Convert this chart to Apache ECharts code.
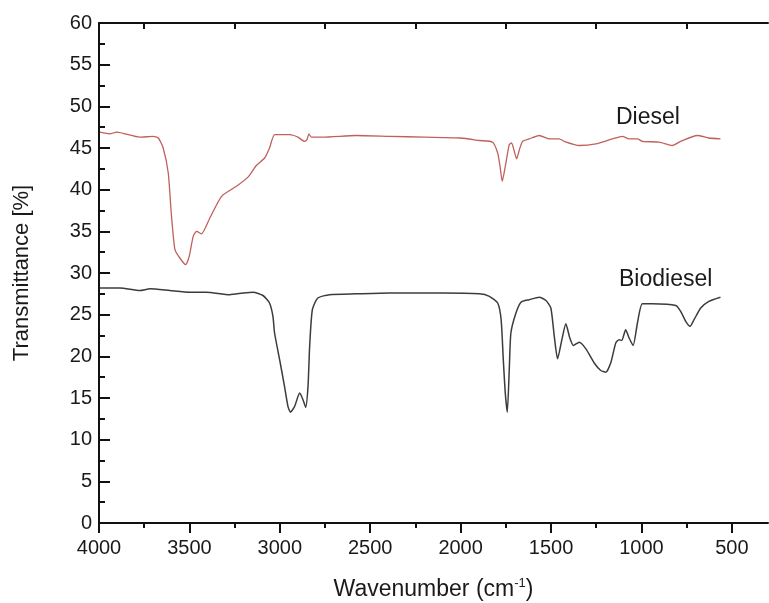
<!doctype html>
<html lang="en">
<head>
    <meta charset="utf-8">
    <title>FTIR Diesel / Biodiesel</title>
    <script src="https://cdn.jsdelivr.net/npm/echarts@6.0.0/dist/echarts.min.js"></script>
    <style>
        html, body { margin: 0; padding: 0; background: #fff; }
        #chart { width: 769px; height: 603px; }
    </style>
</head>
<body>
    <div id="chart"></div>

    <script type="text/javascript">
        // wavenumber (cm-1) and transmittance (%)
        var dieselX = [3995, 3940, 3902, 3774, 3700, 3672, 3645, 3617, 3599, 3580, 3553, 3521, 3501, 3479, 3460, 3433,
            3387, 3322, 3240, 3176, 3130, 3084, 3057, 3028, 2945, 2900, 2863, 2850, 2839, 2826, 2762, 2578, 2393, 2200,
            2000, 1896, 1823, 1795, 1782, 1770, 1753, 1731, 1718, 1703, 1690, 1675, 1657, 1620, 1565, 1510, 1455, 1427,
            1344, 1252, 1160, 1105, 1068, 1022, 995, 902, 829, 783, 691, 627, 563];
        var dieselY = [46.9, 46.7, 46.9, 46.3, 46.4, 46.2, 45.0, 42.0, 36.8, 32.8, 31.8, 31.0, 32.0, 34.4, 35.0, 34.7,
            36.6, 39.2, 40.4, 41.5, 42.9, 43.8, 45.0, 46.6, 46.6, 46.3, 45.8, 46.0, 46.7, 46.3, 46.3, 46.5, 46.4, 46.3,
            46.2, 45.9, 45.7, 44.4, 42.8, 41.0, 42.8, 45.4, 45.6, 44.6, 43.7, 44.8, 45.8, 46.1, 46.5, 46.1, 46.1, 45.8,
            45.3, 45.5, 46.1, 46.4, 46.1, 46.1, 45.8, 45.7, 45.3, 45.8, 46.5, 46.2, 46.1];

        var biodieselX = [3995, 3884, 3774, 3718, 3608, 3498, 3406, 3277, 3203, 3148, 3093, 3057, 3038, 3029, 3001, 2974,
            2955, 2941, 2918, 2890, 2872, 2857, 2844, 2835, 2820, 2790, 2725, 2578, 2393, 2100, 1896, 1841, 1795, 1776,
            1764, 1753, 1742, 1731, 1722, 1694, 1666, 1620, 1565, 1528, 1501, 1482, 1464, 1440, 1418, 1396, 1376, 1344,
            1307, 1261, 1225, 1197, 1170, 1142, 1124, 1109, 1087, 1068, 1046, 1022, 995, 939, 810, 783, 755, 731, 709,
            672, 627, 563];
        var biodieselY = [28.2, 28.2, 27.9, 28.1, 27.9, 27.7, 27.7, 27.4, 27.6, 27.7, 27.3, 26.4, 24.8, 22.8, 19.6, 16.4,
            14.0, 13.3, 14.0, 15.6, 14.8, 13.9, 16.4, 21.2, 25.6, 27.0, 27.4, 27.5, 27.6, 27.6, 27.5, 27.2, 26.4, 24.4,
            19.6, 15.6, 13.3, 18.4, 22.8, 25.2, 26.5, 26.8, 27.1, 26.7, 25.8, 22.4, 19.7, 22.0, 23.9, 22.2, 21.3, 21.7,
            20.9, 19.2, 18.3, 18.1, 19.2, 21.6, 22.0, 21.9, 23.2, 22.2, 21.3, 24.0, 26.3, 26.3, 26.1, 25.4, 24.2, 23.6, 24.4,
            25.8, 26.6, 27.1];

        var majorX = [4000, 3500, 3000, 2500, 2000, 1500, 1000, 500];
        var minorX = [3750, 3250, 2750, 2250, 1750, 1250, 750];

        function pairs(xs, ys) {
            var out = [];
            for (var i = 0; i < xs.length; i++) {
                out.push([xs[i], ys[i]]);
            }
            return out;
        }

        var font = 'Liberation Sans, Arial, sans-serif';
        var axisColor = '#111';
        var textColor = '#1a1a1a';

        var myChart = echarts.init(document.getElementById('chart'));
        var option = {
            animation: false,
            backgroundColor: '#fff',
            grid: {
                left: 99, top: 23, right: 1, bottom: 80,
                containLabel: false,
                outerBoundsMode: 'none'
            },
            xAxis: [
                {
                    type: 'value', position: 'bottom', inverse: true,
                    min: 300, max: 4000,
                    name: 'Wavenumber (cm{sup|-1})',
                    nameLocation: 'middle', nameGap: 54,
                    nameTextStyle: {
                        fontFamily: font, fontSize: 23, color: textColor,
                        rich: { sup: { fontSize: 13, verticalAlign: 'top', padding: [0, 0, 12, 0], fontFamily: font, color: textColor } }
                    },
                    axisLine: { show: true, onZero: false, lineStyle: { color: axisColor, width: 2 } },
                    axisTick: { show: true, inside: false, length: 10, customValues: majorX, lineStyle: { color: axisColor, width: 2 } },
                    axisLabel: {
                        customValues: majorX, fontFamily: font, fontSize: 20, color: textColor, margin: 15,
                        formatter: function (v) { return String(v); }
                    },
                    splitLine: { show: false }
                },
                {
                    type: 'value', position: 'bottom', inverse: true,
                    min: 300, max: 4000,
                    axisLine: { show: false, onZero: false },
                    axisTick: { show: true, inside: false, length: 5, customValues: minorX, lineStyle: { color: axisColor, width: 2 } },
                    axisLabel: { show: false },
                    splitLine: { show: false }
                },
                {
                    type: 'value', position: 'top', inverse: true,
                    min: 300, max: 4000,
                    axisLine: { show: true, onZero: false, lineStyle: { color: axisColor, width: 2 } },
                    axisTick: { show: true, inside: true, length: 6, customValues: minorX, lineStyle: { color: axisColor, width: 2 } },
                    axisLabel: { show: false },
                    splitLine: { show: false }
                }
            ],
            yAxis: {
                type: 'value', min: 0, max: 60, interval: 5,
                name: 'Transmittance [%]',
                nameLocation: 'middle', nameGap: 66, nameRotate: 90,
                nameTextStyle: { fontFamily: font, fontSize: 22, color: textColor },
                axisLine: { show: true, onZero: false, lineStyle: { color: axisColor, width: 2 } },
                axisTick: { show: true, inside: true, length: 11, lineStyle: { color: axisColor, width: 2 } },
                minorTick: { show: true, splitNumber: 2, length: 6, lineStyle: { color: axisColor, width: 2 } },
                axisLabel: { fontFamily: font, fontSize: 20, color: textColor, margin: 7 },
                splitLine: { show: false }
            },
            graphic: [
                { type: 'text', left: 616, top: 106, style: { text: 'Diesel', font: '23px ' + font, fill: textColor } },
                { type: 'text', left: 619, top: 268, style: { text: 'Biodiesel', font: '23px ' + font, fill: textColor } }
            ],
            series: [
                {
                    name: 'Diesel', type: 'line', xAxisIndex: 0,
                    data: pairs(dieselX, dieselY),
                    showSymbol: false, smooth: 0.2,
                    lineStyle: { color: '#c0605c', width: 1.3 }
                },
                {
                    name: 'Biodiesel', type: 'line', xAxisIndex: 0,
                    data: pairs(biodieselX, biodieselY),
                    showSymbol: false, smooth: 0.2,
                    lineStyle: { color: '#3c3c3c', width: 1.5 }
                }
            ]
        };
        myChart.setOption(option);
    </script>
</body>
</html>
